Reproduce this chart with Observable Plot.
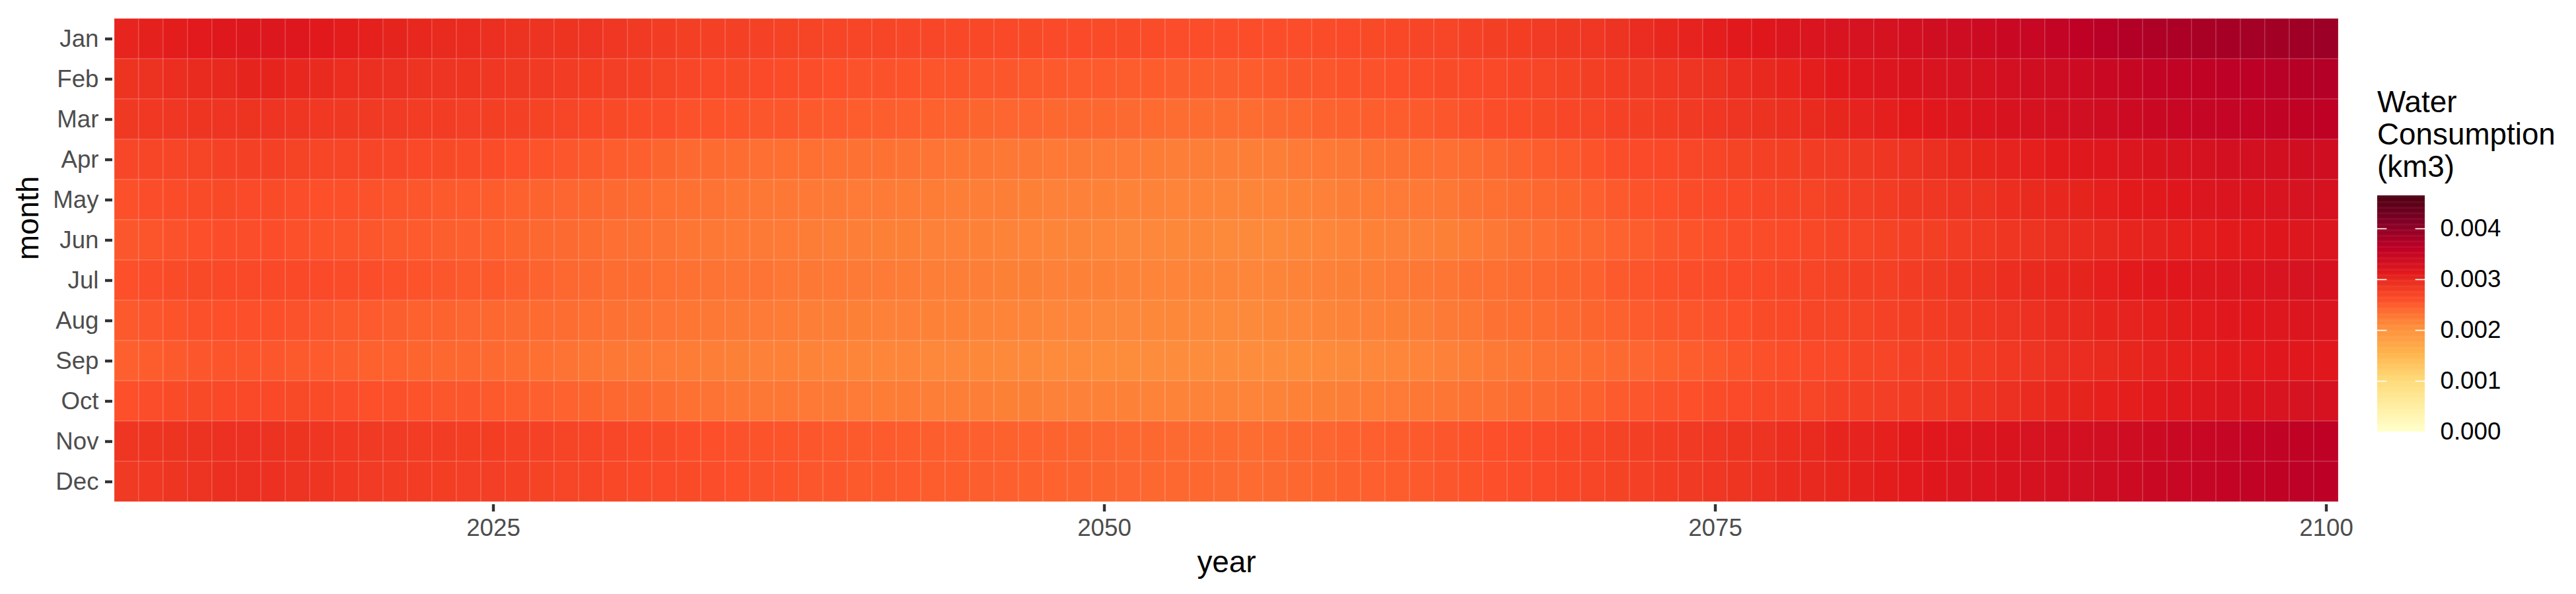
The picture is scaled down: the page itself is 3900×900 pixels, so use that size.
<!DOCTYPE html>
<html><head><meta charset="utf-8">
<script src="https://cdn.jsdelivr.net/npm/d3@7"></script>
<script src="https://cdn.jsdelivr.net/npm/@observablehq/plot@0.6"></script>
<style>
html,body{margin:0;padding:0;background:#fff;}
#wrap{position:relative;width:3900px;height:900px;font-family:"Liberation Sans",Arial,sans-serif;}
#main{position:absolute;left:0;top:0;}
#ltitle{position:absolute;left:3599px;top:130px;font-size:45.8px;line-height:49px;color:#000;white-space:nowrap;}
#legend{position:absolute;left:3599px;top:275.6px;}
#main g[aria-label="x-axis tick label"], #main g[aria-label="y-axis tick label"]{fill:#4d4d4d;}
#legend g[aria-label="y-axis tick label"]{fill:#000;}
</style></head>
<body><div id="wrap"><div id="main"></div><div id="ltitle">Water<br>Consumption<br>(km3)</div><div id="legend"></div></div>
<script>
const months = ["Jan","Feb","Mar","Apr","May","Jun","Jul","Aug","Sep","Oct","Nov","Dec"];
const years = d3.range(2010, 2101);
const xTicks = [2025, 2050, 2075, 2100];
const legendTicks = [0, 0.001, 0.002, 0.003, 0.004];
const colorMax = 0.00465;
const palette = ["#FFFFCC","#FFEDA0","#FED976","#FEB24C","#FD8D3C","#FC4E2A","#E31A1C","#BD0026","#800026","#4D0011"];

const jan = [0.00302,0.00305,0.00309,0.00312,0.00315,0.00318,0.00318,0.00317,0.00313,0.00309,
0.00306,0.00303,0.00300,0.00298,0.00296,0.00293,0.00291,0.00290,0.00289,0.00288,
0.00285,0.00282,0.00279,0.00276,0.00275,0.00274,0.00273,0.00272,0.00271,0.00270,
0.00269,0.00268,0.00267,0.00267,0.00266,0.00266,0.00265,0.00264,0.00263,0.00263,
0.00262,0.00262,0.00261,0.00260,0.00260,0.00259,0.00259,0.00259,0.00260,0.00261,
0.00263,0.00264,0.00266,0.00268,0.00270,0.00273,0.00276,0.00278,0.00281,0.00283,
0.00285,0.00290,0.00295,0.00300,0.00304,0.00308,0.00313,0.00316,0.00320,0.00322,
0.00325,0.00327,0.00329,0.00333,0.00337,0.00339,0.00341,0.00345,0.00348,0.00353,
0.00359,0.00365,0.00370,0.00373,0.00376,0.00378,0.00380,0.00382,0.00383,0.00386,
0.00388];
const feb = [0.00289,0.00291,0.00294,0.00297,0.00299,0.00303,0.00303,0.00300,0.00297,0.00294,
0.00293,0.00292,0.00290,0.00288,0.00287,0.00285,0.00283,0.00282,0.00280,0.00278,
0.00277,0.00274,0.00271,0.00267,0.00265,0.00264,0.00263,0.00261,0.00259,0.00258,
0.00256,0.00256,0.00255,0.00254,0.00254,0.00253,0.00252,0.00251,0.00250,0.00249,
0.00249,0.00248,0.00248,0.00247,0.00247,0.00247,0.00248,0.00250,0.00252,0.00253,
0.00255,0.00256,0.00258,0.00260,0.00262,0.00263,0.00265,0.00267,0.00269,0.00272,
0.00276,0.00279,0.00282,0.00285,0.00288,0.00291,0.00295,0.00299,0.00302,0.00308,
0.00313,0.00317,0.00320,0.00323,0.00325,0.00327,0.00329,0.00333,0.00337,0.00339,
0.00341,0.00345,0.00349,0.00353,0.00356,0.00358,0.00360,0.00362,0.00365,0.00367,
0.00369];
const mar = [0.00283,0.00284,0.00285,0.00287,0.00288,0.00289,0.00288,0.00286,0.00284,0.00283,
0.00282,0.00281,0.00280,0.00279,0.00277,0.00276,0.00274,0.00272,0.00269,0.00266,
0.00264,0.00261,0.00259,0.00256,0.00255,0.00254,0.00253,0.00252,0.00250,0.00249,
0.00248,0.00247,0.00246,0.00245,0.00243,0.00242,0.00241,0.00241,0.00240,0.00240,
0.00239,0.00238,0.00237,0.00236,0.00236,0.00235,0.00236,0.00238,0.00240,0.00243,
0.00245,0.00247,0.00248,0.00250,0.00253,0.00256,0.00259,0.00261,0.00264,0.00267,
0.00270,0.00273,0.00276,0.00279,0.00282,0.00285,0.00288,0.00291,0.00293,0.00297,
0.00301,0.00304,0.00307,0.00311,0.00314,0.00318,0.00322,0.00326,0.00329,0.00332,
0.00335,0.00338,0.00341,0.00345,0.00348,0.00350,0.00352,0.00354,0.00356,0.00358,
0.00359];
const apr = [0.00267,0.00268,0.00270,0.00271,0.00273,0.00274,0.00274,0.00272,0.00270,0.00269,
0.00268,0.00267,0.00265,0.00264,0.00262,0.00261,0.00258,0.00255,0.00253,0.00251,
0.00248,0.00246,0.00242,0.00238,0.00237,0.00235,0.00234,0.00233,0.00233,0.00232,
0.00232,0.00231,0.00230,0.00229,0.00228,0.00228,0.00227,0.00226,0.00225,0.00224,
0.00223,0.00223,0.00222,0.00221,0.00221,0.00220,0.00220,0.00221,0.00223,0.00225,
0.00227,0.00230,0.00232,0.00233,0.00234,0.00236,0.00239,0.00243,0.00248,0.00251,
0.00255,0.00259,0.00263,0.00265,0.00267,0.00270,0.00272,0.00274,0.00276,0.00279,
0.00281,0.00283,0.00286,0.00290,0.00293,0.00297,0.00301,0.00304,0.00307,0.00311,
0.00315,0.00317,0.00319,0.00323,0.00326,0.00329,0.00332,0.00333,0.00334,0.00336,
0.00337];
const may = [0.00257,0.00259,0.00261,0.00262,0.00264,0.00263,0.00262,0.00260,0.00258,0.00257,
0.00256,0.00254,0.00252,0.00250,0.00249,0.00248,0.00245,0.00243,0.00241,0.00239,
0.00238,0.00236,0.00233,0.00231,0.00230,0.00228,0.00227,0.00226,0.00225,0.00224,
0.00223,0.00223,0.00222,0.00222,0.00221,0.00221,0.00220,0.00219,0.00218,0.00218,
0.00217,0.00216,0.00216,0.00215,0.00215,0.00214,0.00214,0.00215,0.00216,0.00218,
0.00220,0.00222,0.00223,0.00225,0.00227,0.00230,0.00233,0.00236,0.00239,0.00242,
0.00246,0.00250,0.00255,0.00258,0.00261,0.00263,0.00265,0.00267,0.00269,0.00271,
0.00274,0.00277,0.00280,0.00283,0.00285,0.00288,0.00290,0.00294,0.00297,0.00300,
0.00303,0.00307,0.00310,0.00313,0.00316,0.00319,0.00322,0.00324,0.00325,0.00327,
0.00328];
const jun = [0.00252,0.00254,0.00256,0.00258,0.00259,0.00259,0.00259,0.00257,0.00255,0.00254,
0.00253,0.00251,0.00249,0.00247,0.00246,0.00245,0.00242,0.00240,0.00238,0.00236,
0.00234,0.00232,0.00230,0.00228,0.00227,0.00225,0.00224,0.00223,0.00222,0.00221,
0.00220,0.00219,0.00219,0.00218,0.00218,0.00217,0.00216,0.00215,0.00214,0.00214,
0.00213,0.00212,0.00212,0.00211,0.00211,0.00210,0.00210,0.00210,0.00211,0.00213,
0.00215,0.00217,0.00218,0.00218,0.00219,0.00222,0.00226,0.00230,0.00234,0.00237,
0.00240,0.00244,0.00248,0.00252,0.00255,0.00257,0.00259,0.00261,0.00263,0.00266,
0.00268,0.00270,0.00272,0.00274,0.00276,0.00279,0.00282,0.00286,0.00290,0.00293,
0.00296,0.00299,0.00302,0.00304,0.00306,0.00308,0.00310,0.00313,0.00316,0.00318,
0.00320];
const jul = [0.00258,0.00260,0.00262,0.00264,0.00265,0.00265,0.00265,0.00265,0.00263,0.00261,
0.00259,0.00257,0.00255,0.00253,0.00251,0.00250,0.00247,0.00243,0.00240,0.00238,
0.00236,0.00235,0.00233,0.00232,0.00230,0.00229,0.00229,0.00227,0.00226,0.00225,
0.00224,0.00223,0.00222,0.00221,0.00221,0.00220,0.00219,0.00219,0.00218,0.00217,
0.00217,0.00216,0.00215,0.00215,0.00214,0.00214,0.00213,0.00214,0.00216,0.00218,
0.00219,0.00221,0.00223,0.00226,0.00228,0.00231,0.00233,0.00236,0.00239,0.00242,
0.00245,0.00250,0.00254,0.00257,0.00259,0.00261,0.00263,0.00265,0.00267,0.00270,
0.00272,0.00274,0.00275,0.00279,0.00282,0.00286,0.00290,0.00294,0.00297,0.00300,
0.00303,0.00307,0.00311,0.00314,0.00316,0.00318,0.00320,0.00322,0.00325,0.00327,
0.00328];
const aug = [0.00251,0.00253,0.00255,0.00257,0.00258,0.00258,0.00257,0.00256,0.00253,0.00251,
0.00249,0.00247,0.00245,0.00243,0.00241,0.00240,0.00238,0.00237,0.00235,0.00233,
0.00232,0.00230,0.00229,0.00228,0.00226,0.00224,0.00223,0.00222,0.00221,0.00220,
0.00219,0.00218,0.00218,0.00217,0.00217,0.00216,0.00215,0.00214,0.00213,0.00213,
0.00212,0.00212,0.00211,0.00211,0.00210,0.00210,0.00210,0.00211,0.00212,0.00214,
0.00216,0.00218,0.00219,0.00221,0.00224,0.00227,0.00231,0.00233,0.00235,0.00238,
0.00242,0.00245,0.00249,0.00252,0.00254,0.00256,0.00258,0.00262,0.00265,0.00268,
0.00270,0.00271,0.00273,0.00276,0.00279,0.00282,0.00285,0.00288,0.00292,0.00296,
0.00299,0.00302,0.00304,0.00306,0.00309,0.00312,0.00314,0.00316,0.00317,0.00319,
0.00320];
const sep = [0.00246,0.00248,0.00250,0.00252,0.00254,0.00254,0.00253,0.00251,0.00249,0.00247,
0.00245,0.00244,0.00242,0.00240,0.00239,0.00238,0.00235,0.00233,0.00230,0.00228,
0.00226,0.00224,0.00223,0.00222,0.00220,0.00219,0.00218,0.00217,0.00216,0.00215,
0.00214,0.00213,0.00213,0.00212,0.00212,0.00211,0.00210,0.00210,0.00209,0.00209,
0.00208,0.00208,0.00207,0.00207,0.00207,0.00207,0.00207,0.00207,0.00208,0.00209,
0.00210,0.00212,0.00213,0.00215,0.00218,0.00221,0.00224,0.00227,0.00230,0.00232,
0.00235,0.00238,0.00241,0.00245,0.00248,0.00251,0.00254,0.00257,0.00260,0.00263,
0.00265,0.00268,0.00270,0.00273,0.00275,0.00278,0.00280,0.00284,0.00288,0.00292,
0.00295,0.00298,0.00301,0.00304,0.00306,0.00308,0.00310,0.00312,0.00314,0.00314,
0.00314];
const oct = [0.00258,0.00260,0.00262,0.00264,0.00265,0.00265,0.00265,0.00264,0.00262,0.00260,
0.00258,0.00257,0.00255,0.00253,0.00252,0.00251,0.00248,0.00246,0.00244,0.00242,
0.00240,0.00238,0.00235,0.00232,0.00230,0.00228,0.00227,0.00226,0.00225,0.00224,
0.00223,0.00222,0.00222,0.00221,0.00221,0.00220,0.00219,0.00219,0.00218,0.00218,
0.00217,0.00217,0.00216,0.00216,0.00216,0.00216,0.00215,0.00216,0.00217,0.00219,
0.00220,0.00222,0.00223,0.00226,0.00228,0.00230,0.00232,0.00235,0.00238,0.00241,
0.00245,0.00249,0.00253,0.00256,0.00258,0.00261,0.00263,0.00266,0.00267,0.00270,
0.00273,0.00275,0.00277,0.00280,0.00282,0.00285,0.00288,0.00292,0.00296,0.00300,
0.00303,0.00306,0.00308,0.00312,0.00315,0.00318,0.00321,0.00323,0.00325,0.00327,
0.00328];
const nov = [0.00286,0.00287,0.00289,0.00291,0.00292,0.00292,0.00291,0.00289,0.00286,0.00284,
0.00282,0.00281,0.00280,0.00279,0.00278,0.00278,0.00275,0.00273,0.00271,0.00269,
0.00267,0.00265,0.00262,0.00259,0.00258,0.00256,0.00255,0.00254,0.00252,0.00251,
0.00250,0.00249,0.00248,0.00247,0.00246,0.00246,0.00245,0.00244,0.00243,0.00242,
0.00241,0.00240,0.00239,0.00238,0.00237,0.00237,0.00236,0.00237,0.00239,0.00241,
0.00244,0.00246,0.00248,0.00250,0.00253,0.00255,0.00258,0.00260,0.00263,0.00266,
0.00269,0.00272,0.00276,0.00279,0.00282,0.00285,0.00287,0.00290,0.00294,0.00298,
0.00302,0.00304,0.00306,0.00310,0.00314,0.00317,0.00320,0.00324,0.00327,0.00330,
0.00332,0.00335,0.00338,0.00341,0.00345,0.00348,0.00350,0.00353,0.00356,0.00358,
0.00359];
const dec = [0.00282,0.00284,0.00287,0.00290,0.00293,0.00293,0.00292,0.00290,0.00287,0.00284,
0.00281,0.00280,0.00279,0.00278,0.00277,0.00277,0.00275,0.00272,0.00270,0.00268,
0.00266,0.00265,0.00263,0.00262,0.00260,0.00258,0.00256,0.00255,0.00253,0.00252,
0.00251,0.00250,0.00249,0.00248,0.00248,0.00247,0.00246,0.00245,0.00244,0.00243,
0.00242,0.00241,0.00240,0.00239,0.00239,0.00238,0.00237,0.00238,0.00240,0.00242,
0.00245,0.00246,0.00248,0.00250,0.00253,0.00255,0.00258,0.00260,0.00263,0.00266,
0.00269,0.00272,0.00275,0.00279,0.00282,0.00285,0.00287,0.00292,0.00296,0.00299,
0.00301,0.00305,0.00309,0.00312,0.00316,0.00319,0.00322,0.00326,0.00329,0.00332,
0.00335,0.00338,0.00341,0.00345,0.00348,0.00350,0.00353,0.00356,0.00358,0.00360,
0.00362];

const series = [jan, feb, mar, apr, may, jun, jul, aug, sep, oct, nov, dec];
const data = months.flatMap((m, i) => years.map((y, j) => ({month: m, year: y, value: series[i][j]})));

const font = "'Liberation Sans', Arial, Helvetica, sans-serif";
const colorScale = {type: "linear", domain: [0, colorMax], interpolate: d3.piecewise(d3.interpolateLab, palette)};

const chart = Plot.plot({
  width: 3560, height: 900,
  marginLeft: 170, marginRight: 17, marginTop: 23, marginBottom: 136,
  style: {fontFamily: font, background: "white", overflow: "visible"},
  x: {type: "band", domain: years, padding: 0, axis: null},
  y: {type: "band", domain: months, padding: 0, axis: null},
  color: colorScale,
  marks: [
    Plot.cell(data, {x: "year", y: "month", fill: "value", stroke: "white", strokeOpacity: 0.22, strokeWidth: 1}),
    Plot.axisX({ticks: xTicks, tickFormat: d => String(d), tickSize: 11, tickPadding: 10, fontSize: 36.7, strokeWidth: 4.4, stroke: "#333333", fill: "#4d4d4d", label: null}),
    Plot.axisY({tickSize: 11, tickPadding: 10, fontSize: 36.7, strokeWidth: 4.4, stroke: "#333333", fill: "#4d4d4d", label: null}),
    Plot.text(["year"], {frameAnchor: "bottom", dy: 102, fontSize: 45.8, fill: "black", lineAnchor: "bottom"}),
    Plot.text(["month"], {frameAnchor: "left", dx: -113, rotate: -90, fontSize: 45.8, fill: "black", lineAnchor: "bottom"})
  ]
});
document.getElementById("main").appendChild(chart);

const steps = 400;
const legendSteps = d3.range(steps).map(i => i * colorMax / steps);
const legend = Plot.plot({
  width: 300, height: 398,
  marginTop: 20, marginBottom: 20, marginLeft: 0, marginRight: 228,
  style: {fontFamily: font, background: "transparent", overflow: "visible"},
  x: {domain: [0, 1], axis: null},
  y: {domain: [0, colorMax], axis: null},
  color: colorScale,
  marks: [
    Plot.rect(legendSteps, {x1: 0, x2: 1, y1: d => d, y2: d => Math.min(colorMax, d + 1.6 * colorMax / steps), fill: d => d}),
    Plot.ruleY(legendTicks.slice(1), {x1: 0, x2: 0.2, stroke: "white", strokeWidth: 1.6}),
    Plot.ruleY(legendTicks.slice(1), {x1: 0.8, x2: 1, stroke: "white", strokeWidth: 1.6}),
    Plot.axisY({anchor: "right", ticks: legendTicks, tickFormat: d3.format(".3f"), tickSize: 0, tickPadding: 23, fontSize: 36.7, fill: "black", label: null})
  ]
});
document.getElementById("legend").appendChild(legend);
</script>
</body></html>
